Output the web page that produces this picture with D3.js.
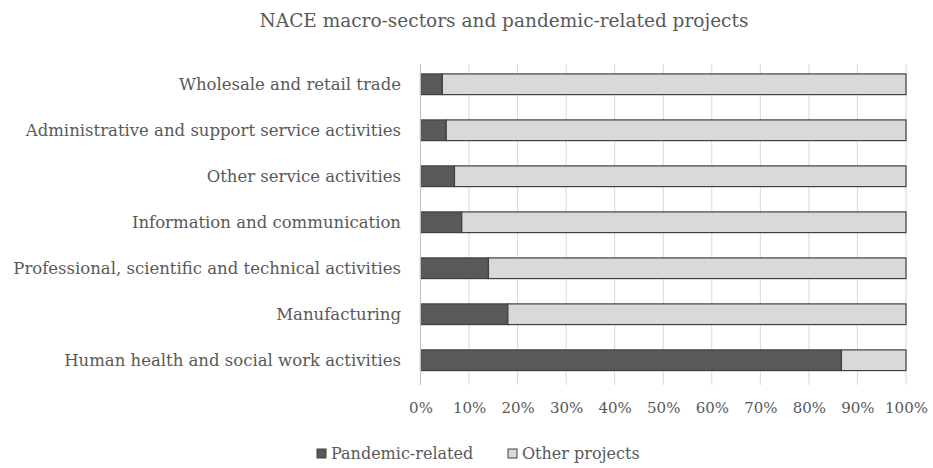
<!DOCTYPE html>
<html>
<head>
<meta charset="utf-8">
<script src="https://cdn.jsdelivr.net/npm/d3@7"></script>
<style>
  body { margin: 0; background: #fff; }
</style>
</head>
<body>
<svg id="chart" width="933" height="468"></svg>
<script>
// Sectors, top to bottom
const categories = [
  "Wholesale and retail trade",
  "Administrative and support service activities",
  "Other service activities",
  "Information and communication",
  "Professional, scientific and technical activities",
  "Manufacturing",
  "Human health and social work activities"
];
// Share of pandemic-related projects (%) per sector
const pandemicRelated = [4.5, 5.3, 7.0, 8.5, 14.0, 18.0, 86.7];
// Remaining share (%)
const otherProjects = pandemicRelated.map(v => 100 - v);
const seriesNames = ["Pandemic-related", "Other projects"];
const tickValues = [0, 10, 20, 30, 40, 50, 60, 70, 80, 90, 100];

const FONT = "'DejaVu Serif', serif";
const TEXT = "#595959";

const svg = d3.select("#chart");
const colors = ["#595959", "#d9d9d9"];
const stroke = "#404040";

const x = d3.scaleLinear().domain([0, 100]).range([420.5, 906]);
const y = d3.scaleBand().domain(categories).range([61.5, 383]).paddingInner(0.55).paddingOuter(0.27);

// Title
svg.append("text")
  .attr("x", 504).attr("y", 27)
  .attr("text-anchor", "middle")
  .attr("font-family", FONT).attr("font-size", 18.5).attr("fill", TEXT)
  .text("NACE macro-sectors and pandemic-related projects");

// Vertical gridlines with ticks below the plot
svg.append("g")
  .selectAll("line")
  .data(tickValues)
  .join("line")
  .attr("x1", d => x(d)).attr("x2", d => x(d))
  .attr("y1", 64).attr("y2", 385)
  .attr("stroke", "#d9d9d9").attr("stroke-width", 1);

// Tick labels via a bottom axis
const xAxis = d3.axisBottom(x).tickValues(tickValues).tickFormat(d => d + "%").tickSize(0).tickPadding(0);
const gx = svg.append("g").attr("transform", "translate(0,402)").call(xAxis)
  .attr("font-family", FONT).attr("font-size", 15);
gx.select(".domain").remove();
gx.selectAll("text").attr("dy", "0.75em").attr("fill", TEXT);

// Stacked bars
const rows = categories.map((c, i) => ({ cat: c, vals: [pandemicRelated[i], otherProjects[i]] }));
const stack = d3.stack().keys([0, 1]).value((d, k) => d.vals[k]);
const layers = stack(rows);

svg.append("g")
  .selectAll("g")
  .data(layers)
  .join("g")
  .attr("fill", (d, i) => colors[i])
  .selectAll("rect")
  .data(d => d)
  .join("rect")
  .attr("x", d => x(d[0]))
  .attr("y", d => y(d.data.cat))
  .attr("width", d => x(d[1]) - x(d[0]))
  .attr("height", y.bandwidth())
  .attr("stroke", stroke)
  .attr("stroke-width", 1.2);

// Left axis line
svg.append("line")
  .attr("x1", x(0)).attr("x2", x(0))
  .attr("y1", 64).attr("y2", 385)
  .attr("stroke", "#bfbfbf");

// Category labels
const yAxis = d3.axisLeft(y).tickSize(0).tickPadding(0);
const gy = svg.append("g").attr("transform", "translate(401,0)").call(yAxis)
  .attr("font-family", FONT).attr("font-size", 16.5);
gy.select(".domain").remove();
gy.selectAll("text").attr("fill", TEXT);

// Legend
const legend = svg.append("g").attr("transform", "translate(317,449)");
const legendX = [0, 191];
seriesNames.forEach((name, i) => {
  const g = legend.append("g").attr("transform", `translate(${legendX[i]},0)`);
  g.append("rect").attr("x", 0).attr("y", 0).attr("width", 9).attr("height", 9)
    .attr("fill", colors[i]).attr("stroke", stroke).attr("stroke-width", 1);
  g.append("text").attr("x", 14).attr("y", 10)
    .attr("font-family", FONT).attr("font-size", 16).attr("fill", TEXT)
    .text(name);
});
</script>
</body>
</html>
